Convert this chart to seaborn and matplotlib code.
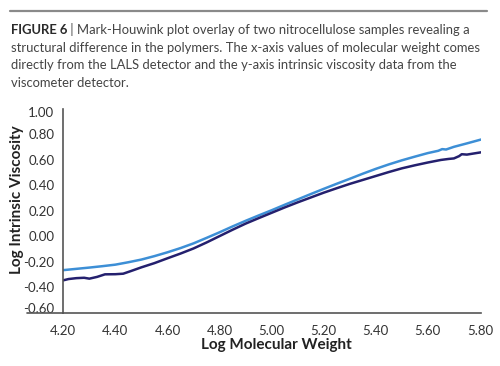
import matplotlib
matplotlib.use("Agg")
import matplotlib.pyplot as plt
import matplotlib.transforms as mtransforms
from matplotlib import font_manager
import seaborn as sns
import pandas as pd

# ---- data ----
light_x = [4.20, 4.25, 4.30, 4.35, 4.40, 4.45, 4.50, 4.55, 4.60, 4.65, 4.70, 4.75,
           4.80, 4.85, 4.90, 4.95, 5.00, 5.05, 5.10, 5.15, 5.20, 5.25, 5.30, 5.35,
           5.40, 5.45, 5.50, 5.55, 5.60, 5.64, 5.655, 5.67, 5.70, 5.75, 5.80, 5.82]
light_y = [-0.265, -0.255, -0.245, -0.234, -0.222, -0.203, -0.182, -0.155, -0.125,
           -0.092, -0.055, -0.012, 0.032, 0.078, 0.122, 0.164, 0.205, 0.248, 0.290,
           0.332, 0.373, 0.413, 0.452, 0.492, 0.530, 0.565, 0.597, 0.626, 0.654,
           0.672, 0.685, 0.682, 0.703, 0.730, 0.758, 0.768]

dark_x = [4.20, 4.22, 4.25, 4.28, 4.30, 4.33, 4.36, 4.40, 4.43, 4.46, 4.50, 4.55,
          4.60, 4.65, 4.70, 4.75, 4.80, 4.85, 4.90, 4.95, 5.00, 5.05, 5.10, 5.15,
          5.20, 5.25, 5.30, 5.35, 5.40, 5.45, 5.50, 5.55, 5.60, 5.65, 5.68, 5.70,
          5.72, 5.73, 5.75, 5.78, 5.82]
dark_y = [-0.345, -0.335, -0.328, -0.325, -0.332, -0.318, -0.298, -0.297, -0.293,
          -0.272, -0.243, -0.210, -0.172, -0.135, -0.095, -0.048, 0.002, 0.052,
          0.100, 0.143, 0.185, 0.227, 0.267, 0.305, 0.343, 0.378, 0.412, 0.443,
          0.474, 0.505, 0.534, 0.558, 0.580, 0.600, 0.608, 0.612, 0.630, 0.645,
          0.642, 0.652, 0.665]

x_ticks = [4.20, 4.40, 4.60, 4.80, 5.00, 5.20, 5.40, 5.60, 5.80]
y_ticks = [-0.60, -0.40, -0.20, 0.00, 0.20, 0.40, 0.60, 0.80, 1.00]

caption_bold = "FIGURE 6"
caption_lines = [
    " | Mark-Houwink plot overlay of two nitrocellulose samples revealing a",
    "structural difference in the polymers. The x-axis values of molecular weight comes",
    "directly from the LALS detector and the y-axis intrinsic viscosity data from the",
    "viscometer detector.",
]

df = pd.concat([
    pd.DataFrame({"x": light_x, "y": light_y, "s": "A"}),
    pd.DataFrame({"x": dark_x, "y": dark_y, "s": "B"}),
])

sns.set_theme(style="white")
plt.rcParams["font.family"] = ["Lato", "DejaVu Sans"]
installed = {f.name for f in font_manager.fontManager.ttflist}
cap_family = ["Liberation Sans Narrow", "DejaVu Sans"] if "Liberation Sans Narrow" in installed \
    else ["Lato", "DejaVu Sans"]

W, H = 500, 366
fig = plt.figure(figsize=(5.0, 3.66), dpi=100)
ax = fig.add_axes([63.3 / W, 1 - 312.8 / H, 418 / W, (312.8 - 109) / H])

sns.lineplot(data=df, x="x", y="y", hue="s", palette={"A": "#3d8fd6", "B": "#24206e"},
             linewidth=1.8, ax=ax, legend=False, sort=False, estimator=None)

ax.set_xlim(4.2, 4.2 + 418 / 260.4)
ax.set_ylim(-0.6, 1.0)
ax.set_xticks(x_ticks)
ax.set_yticks(y_ticks)
ax.set_xticklabels([f"{v:.2f}" for v in x_ticks])
ax.set_yticklabels([f"{v:.2f}" for v in y_ticks])
ax.tick_params(axis="both", labelsize=9.5, colors="#555555", labelcolor="#333333",
               direction="out", length=3.5, width=1.0, pad=3)
ax.tick_params(axis="x", pad=5)
for s in ["top", "right"]:
    ax.spines[s].set_visible(False)
for s in ["left", "bottom"]:
    ax.spines[s].set_color("#555555")
    ax.spines[s].set_linewidth(1.2)
ax.plot([-0.087, 0], [0, 0], transform=ax.transAxes, color="#555555", lw=1.2,
        clip_on=False)

# end labels of the y axis are nudged inward, as in the reference
ylabels = ax.get_yticklabels()
ylabels[0].set_transform(ylabels[0].get_transform() +
                         mtransforms.ScaledTranslation(0, 5 / 100, fig.dpi_scale_trans))
ylabels[-1].set_transform(ylabels[-1].get_transform() +
                          mtransforms.ScaledTranslation(0, -3 / 100, fig.dpi_scale_trans))

ax.set_xlabel("Log Molecular Weight", fontsize=11, fontweight="bold", color="#222222")
ax.set_ylabel("Log Intrinsic Viscosity", fontsize=11, fontweight="bold", color="#222222")
ax.xaxis.set_label_coords((276 - 63.3) / 418, -(345 - 312.8) / 203.8)
ax.xaxis.label.set_va("center")
ax.yaxis.set_label_coords((17 - 63.3) / 418, (312.8 - 200) / 203.8)
ax.yaxis.label.set_va("center")

fig.canvas.draw()
r = fig.canvas.get_renderer()

# caption rule
fig.add_artist(plt.Line2D([10 / W, 487 / W], [1 - 11 / H, 1 - 11 / H], color="#8a8a8a",
                          lw=1.6, transform=fig.transFigure))

# fit caption font so the second line spans ~468 px
fs = 10.8
probe = fig.text(0, 0, caption_lines[1], fontsize=fs, family=cap_family)
w = probe.get_window_extent(r).width
probe.remove()
fs = fs * 468 / w

t0 = fig.text(11 / W, 1 - 30 / H, caption_bold, fontsize=fs, fontweight="bold",
              family=cap_family, color="#2a2a2a", va="center", ha="left")
bb = t0.get_window_extent(r)
fig.text((bb.x1) / W, 1 - 30 / H, caption_lines[0], fontsize=fs, color="#444444",
         family=cap_family, va="center", ha="left")
for i, line in enumerate(caption_lines[1:]):
    fig.text(11 / W, 1 - (47.7 + 17.5 * i) / H, line, fontsize=fs, color="#444444",
             family=cap_family, va="center", ha="left")

fig.savefig("out.png", dpi=100)
